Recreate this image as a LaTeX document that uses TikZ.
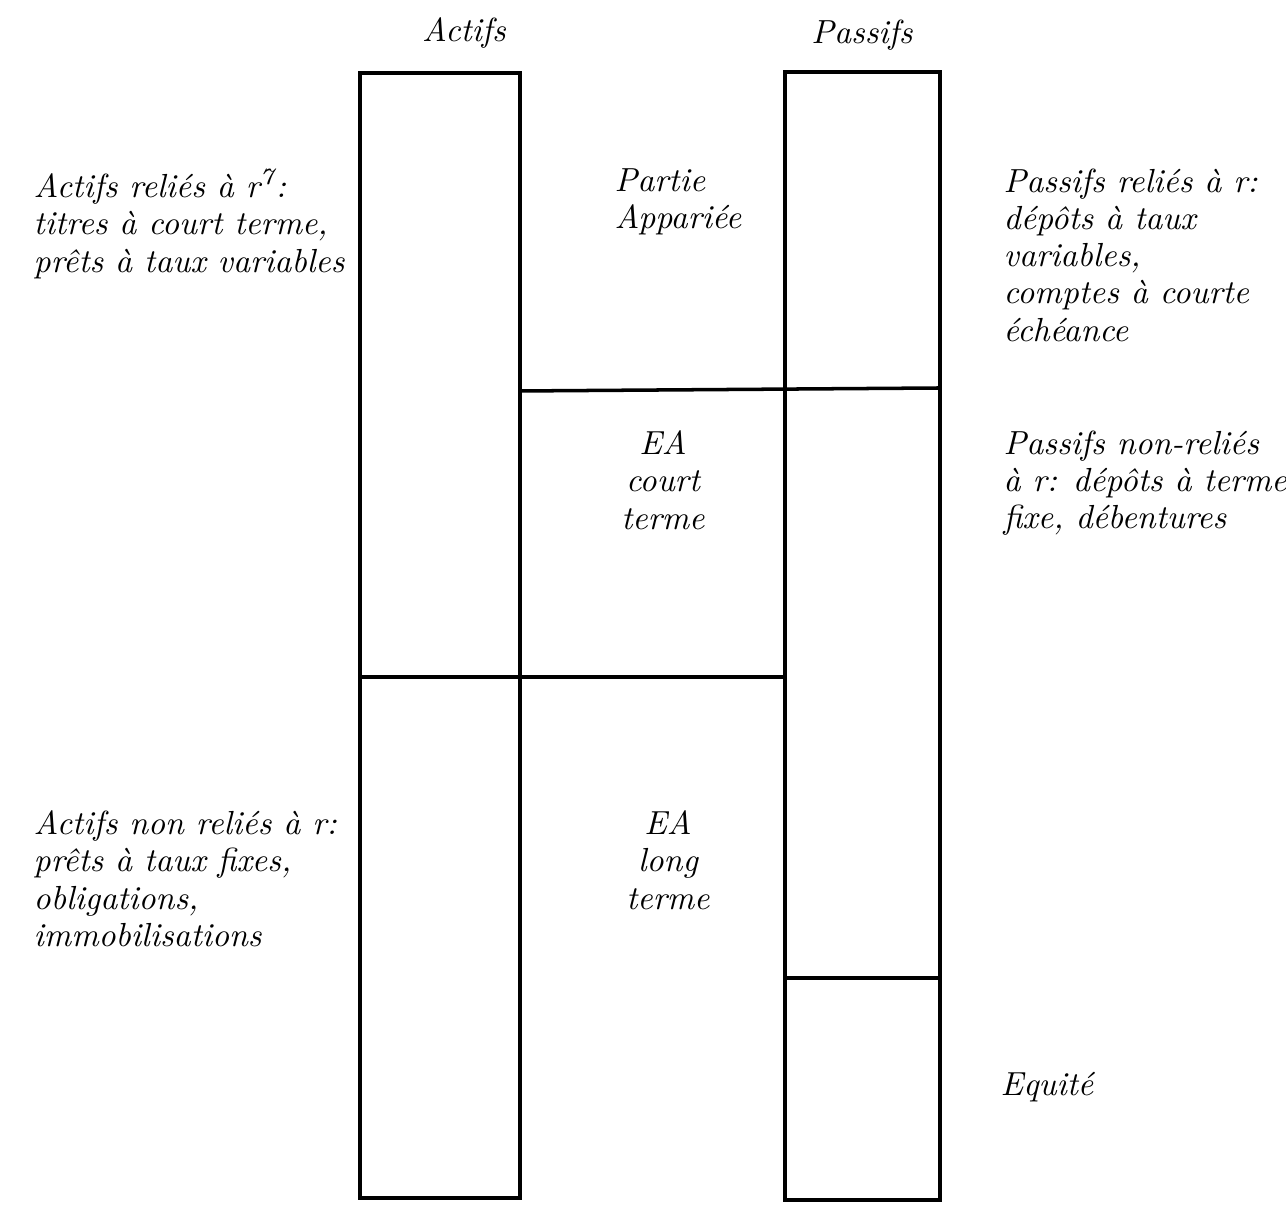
\documentclass[tikz,border=0pt]{standalone}
\usetikzlibrary{positioning}
\tikzset{
  txt/.style={font=\itshape\fontsize{9.5}{10.6}\selectfont, inner sep=0pt, align=left, anchor=north west},
  ctxt/.style={font=\itshape\fontsize{9.5}{10.6}\selectfont, inner sep=0pt, align=center, anchor=north},
  col/.style={line width=1pt}
}
\begin{document}
\begin{tikzpicture}
\useasboundingbox (0,0) rectangle (12.86,-12.05);
% Columns
\draw[col] (3.60,-0.73) rectangle (5.20,-11.98);
\draw[col] (7.85,-0.72) rectangle (9.40,-12.00);
% Separations
\draw[col] (5.20,-3.91) -- (9.40,-3.88);
\draw[col] (3.60,-6.77) -- (7.85,-6.77);
\draw[col] (7.85,-9.78) -- (9.40,-9.78);

% Column titles
\node[ctxt] (actifs) at (4.64,-0.17) {Actifs};
\node[ctxt] (passifs) at (8.62,-0.19) {Passifs};

% Middle labels
\node[txt] (partie) at (6.14,-1.68) {Partie\\Appariée};
\node[ctxt] (eacourt) at (6.63,-4.30) {EA\\court\\terme};
\node[ctxt] (ealong) at (6.68,-8.10) {EA\\long\\terme};

% Left side
\node[txt] (areliés) at (0.33,-1.68) {Actifs reliés à r\textsuperscript{7}:\\titres à court terme,\\prêts à taux variables};
\node[txt] (anonreliés) at (0.33,-8.10) {Actifs non reliés à r:\\prêts à taux fixes,\\obligations,\\immobilisations};

% Right side
\node[txt] (preliés) at (10.03,-1.68) {Passifs reliés à r:\\dépôts à taux\\variables,\\comptes à courte\\échéance};
\node[txt] (pnonreliés) at (10.03,-4.30) {Passifs non-reliés\\à r: dépôts à terme\\fixe, débentures};
\node[txt] (equite) at (10.00,-10.72) {Equité};
\end{tikzpicture}
\end{document}
